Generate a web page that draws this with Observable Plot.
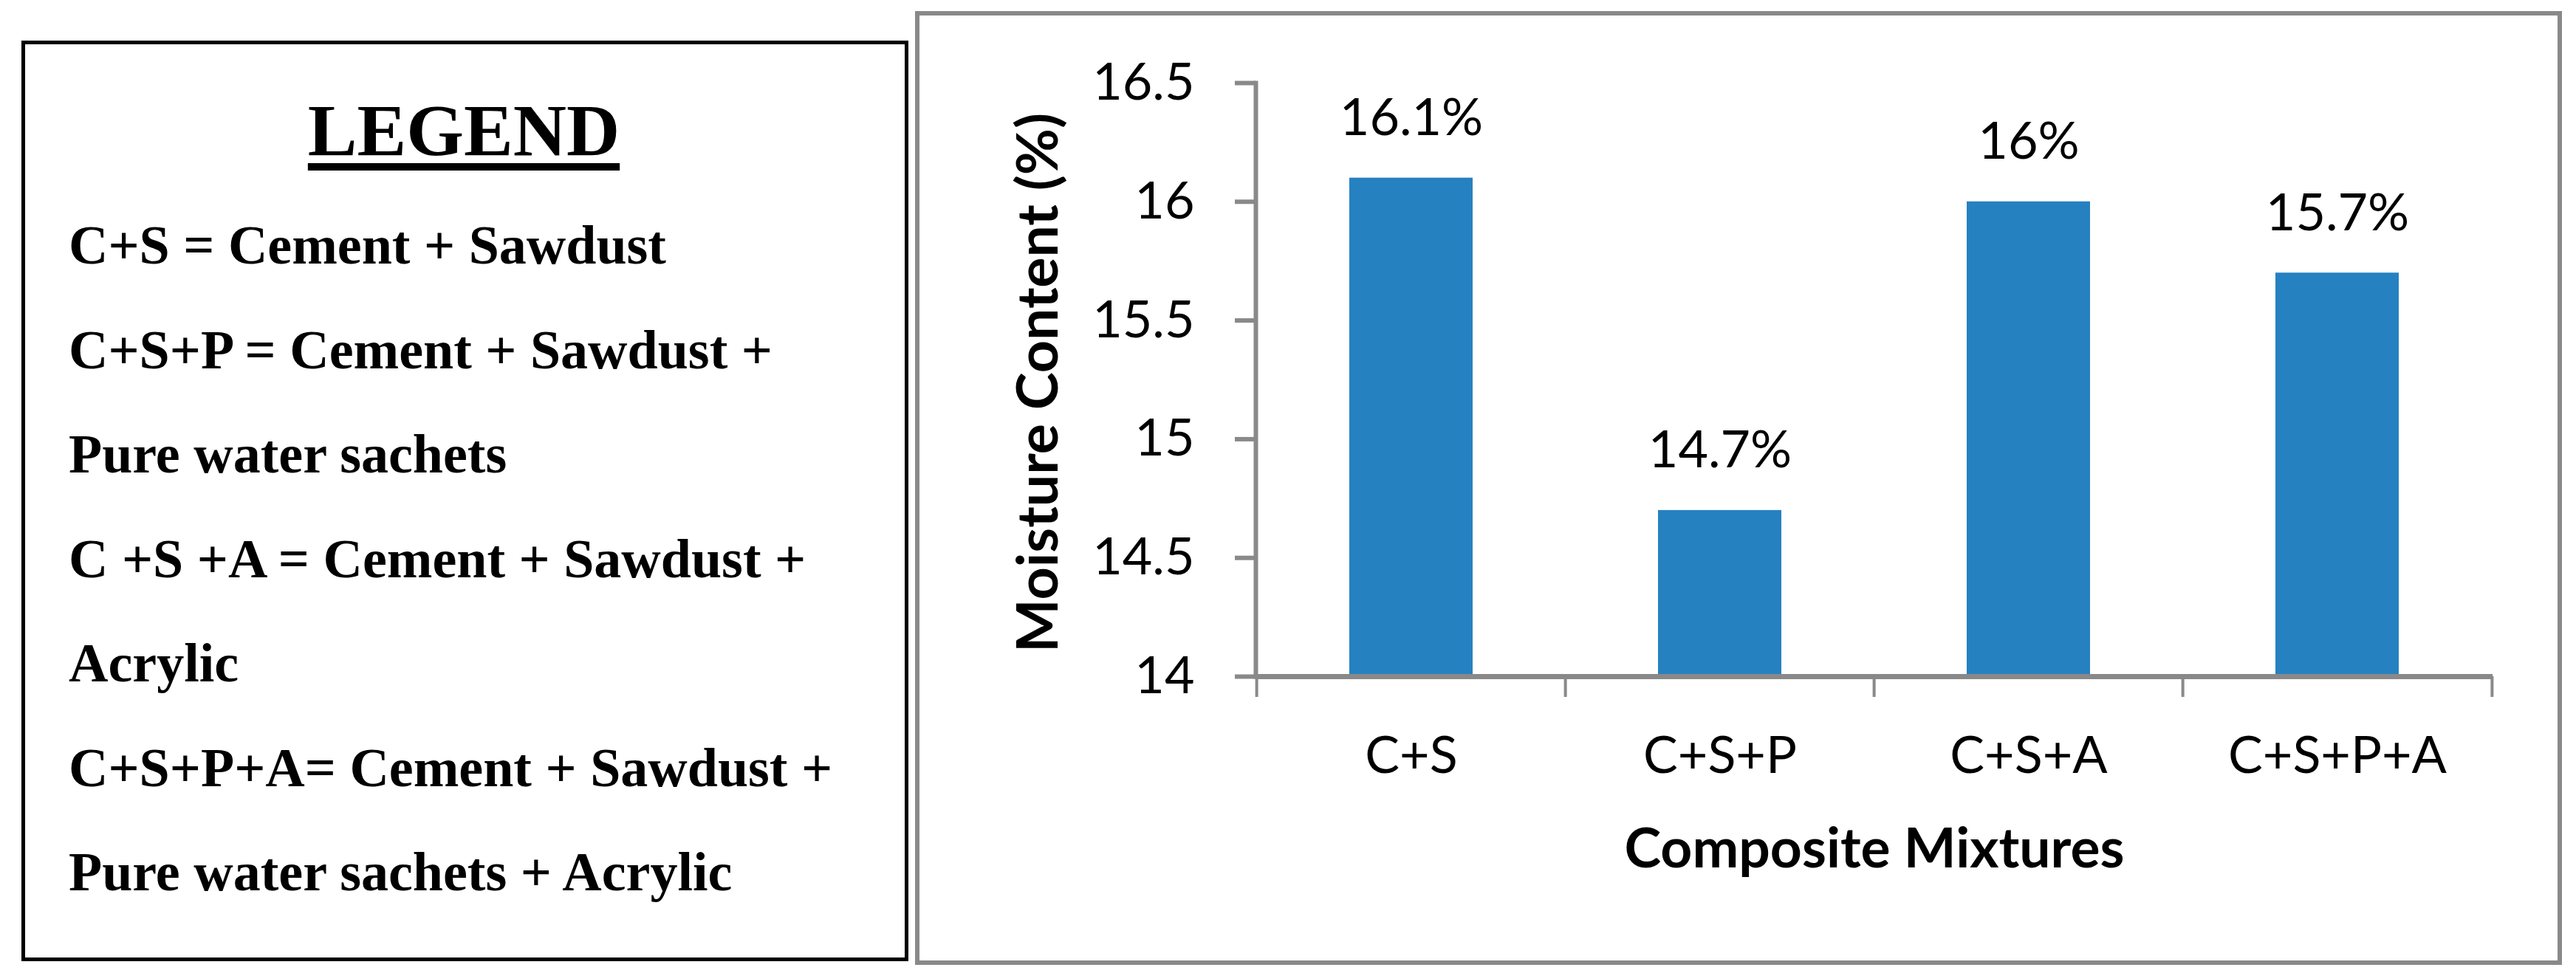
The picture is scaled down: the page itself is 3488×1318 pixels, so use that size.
<!DOCTYPE html>
<html><head><meta charset="utf-8">
<script src="https://cdn.jsdelivr.net/npm/d3@7"></script>
<script src="https://cdn.jsdelivr.net/npm/@observablehq/plot@0.6"></script>
<style>
html,body{margin:0;padding:0;background:#fff;}
#page{position:relative;width:3488px;height:1318px;overflow:hidden;background:#fff;}
#frame{position:absolute;left:1239px;top:15px;width:2230px;height:1292px;box-sizing:border-box;border:6px solid #898989;}
#chart{position:absolute;left:0;top:0;}
#legend{position:absolute;left:0;top:0;}
</style></head><body>
<div id="page"><div id="frame"></div><div id="chart"></div><svg id="legend" width="1260" height="1318"></svg></div>
<script>
const categories = ["C+S", "C+S+P", "C+S+A", "C+S+P+A"];
const moisture = [16.1, 14.7, 16.0, 15.7];
const barLabels = ["16.1%", "14.7%", "16%", "15.7%"];
const yTicks = [14, 14.5, 15, 15.5, 16, 16.5];
const yTickLabels = ["14", "14.5", "15", "15.5", "16", "16.5"];
const yTitle = "Moisture Content (%)";
const xTitle = "Composite Mixtures";
const legendTitle = "LEGEND";
const legendLines = [
  "C+S = Cement + Sawdust",
  "C+S+P = Cement + Sawdust +",
  "Pure water sachets",
  "C +S +A = Cement + Sawdust +",
  "Acrylic",
  "C+S+P+A= Cement + Sawdust +",
  "Pure water sachets + Acrylic"
];

const W = 3488, H = 1318, mL = 1700, mR = 113, mT = 112, mB = 402;
const step = (W - mL - mR) / categories.length;
const gray = "#898989", blue = "#2681c1";
const fs = 70;
const yMin = yTicks[0];
const data = categories.map((c, i) => ({cat: c, v: moisture[i], label: barLabels[i]}));

const chart = Plot.plot({
  width: W, height: H,
  marginLeft: mL, marginRight: mR, marginTop: mT, marginBottom: mB,
  style: {background: "transparent", fontFamily: "Lato", overflow: "visible", color: "black"},
  x: {domain: categories, paddingInner: 0.6, paddingOuter: 0.3},
  y: {domain: [yTicks[0], yTicks[yTicks.length - 1]]},
  marks: [
    Plot.barY(data, {x: "cat", y1: () => yMin, y2: "v", fill: blue}),
    Plot.frame({anchor: "left", stroke: gray, strokeWidth: 6}),
    Plot.ruleY([yMin], {stroke: gray, strokeWidth: 7}),
    Plot.ruleX(categories, {x: d => d, y1: () => yMin, y2: () => yMin, dx: -step / 2, insetBottom: -28, stroke: gray, strokeWidth: 4}),
    Plot.ruleX(categories.slice(-1), {x: d => d, y1: () => yMin, y2: () => yMin, dx: step / 2, insetBottom: -28, stroke: gray, strokeWidth: 4}),
    Plot.axisY(yTicks, {tickSize: 28, tickPadding: 55, stroke: gray, strokeWidth: 6, color: "black", fontSize: fs,
      tickFormat: d => yTickLabels[yTicks.indexOf(d)], label: null}),
    Plot.axisX({tickSize: 0, tickPadding: 81, fontSize: fs, color: "black", label: null}),
    Plot.text(data, {x: "cat", y: "v", text: "label", fontSize: fs, lineAnchor: "middle", dy: -(58 + 0.32 * fs), fill: "black"}),
    Plot.text([yTitle], {text: d => d, frameAnchor: "left", textAnchor: "middle", lineAnchor: "middle", dx: -293, dy: 4, rotate: -90, fontSize: 77, fontWeight: "bold", fill: "black"}),
    Plot.text([xTitle], {text: d => d, frameAnchor: "bottom", textAnchor: "middle", lineAnchor: "middle", dy: 234, fontSize: 75, fontWeight: "bold", fill: "black"})
  ]
});
document.getElementById("chart").appendChild(chart);

const leg = d3.select("#legend");
leg.append("rect").attr("x", 31.5).attr("y", 57.5).attr("width", 1196).attr("height", 1242)
  .attr("fill", "none").attr("stroke", "#000").attr("stroke-width", 5);
const t = leg.append("text").attr("x", 628).attr("y", 210).attr("text-anchor", "middle")
  .attr("font-family", "Liberation Serif").attr("font-weight", "bold").attr("font-size", 100)
  .text(legendTitle);
const tw = t.node().getComputedTextLength();
leg.append("line").attr("x1", 628 - tw / 2).attr("x2", 628 + tw / 2).attr("y1", 226).attr("y2", 226)
  .attr("stroke", "#000").attr("stroke-width", 10);
legendLines.forEach((s, i) => {
  leg.append("text").attr("x", 93).attr("y", 357 + i * 141.5)
    .attr("font-family", "Liberation Serif").attr("font-weight", "bold").attr("font-size", 74)
    .attr("fill", "#000").text(s);
});
</script>
</body></html>
